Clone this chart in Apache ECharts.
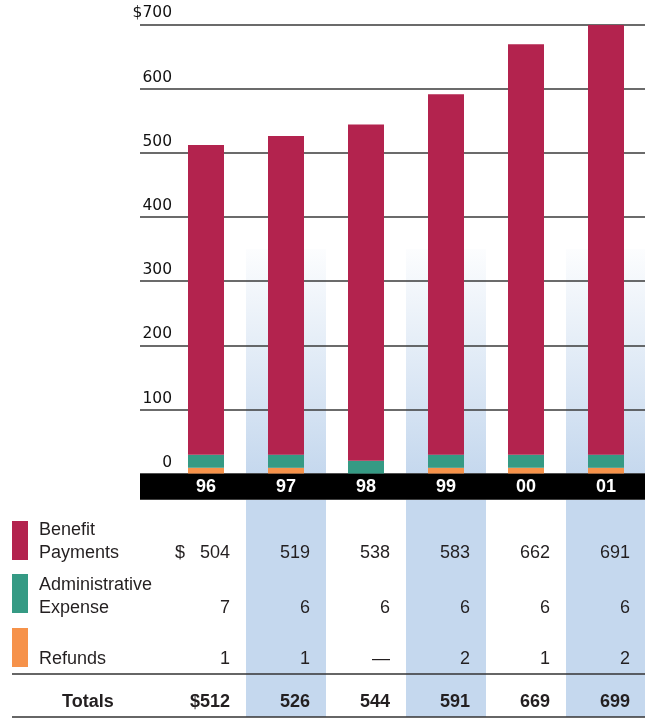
<!DOCTYPE html>
<html><head><meta charset="utf-8">
<script src="https://cdn.jsdelivr.net/npm/echarts@6/dist/echarts.min.js"></script>
<style>html,body{margin:0;padding:0;background:#fff}#c{width:645px;height:718px}</style>
</head><body><div id="c"></div>
<script>
// ---- data ----
const categories = ['96', '97', '98', '99', '00', '01'];
const benefitPayments = [504, 519, 538, 583, 662, 691];
const adminExpense = [7, 6, 6, 6, 6, 6];
const refunds = [1, 1, null, 2, 1, 2];
const totals = [512, 526, 544, 591, 669, 699];
const shadedCategories = ['97', '99', '01'];
const shadeTopValue = 350;
const yMin = 0, yMax = 700, yStep = 100;

// ---- styles ----
const C_BEN = '#b3234e', C_ADM = '#359a84', C_REF = '#f6924a', C_BLUE = '#c5d8ee', C_TXT = '#231f20';
const FONT = 'Liberation Sans, Arial, sans-serif';
const BAR_W = 36, MIN_REF_PX = 6, MIN_ADM_PX = 13;

const chart = echarts.init(document.getElementById('c'));
const gridGeom = { top: 24.3, bottom: 244.3, outerBoundsMode: 'none', containLabel: false };
const yAxisHidden = (gi) => ({ type: 'value', gridIndex: gi, min: yMin, max: yMax, interval: yStep, show: false });

function renderStack(params, api) {
  const i = api.value(0);
  const ref = api.value(1), adm = api.value(2), ben = api.value(3);
  const base = api.coord([i, 0]);
  const x = base[0] - BAR_W / 2, y0 = base[1];
  const hRef = (ref == null || isNaN(ref)) ? 0 : Math.max(api.size([0, ref])[1], MIN_REF_PX);
  const hAdm = Math.max(api.size([0, adm])[1], MIN_ADM_PX);
  const total = (isNaN(ref) ? 0 : ref) + adm + ben;
  const yTop = api.coord([i, total])[1];
  const children = [];
  if (hRef > 0) children.push({ type: 'rect', shape: { x: x, y: y0 - hRef, width: BAR_W, height: hRef }, style: { fill: C_REF } });
  children.push({ type: 'rect', shape: { x: x, y: y0 - hRef - hAdm, width: BAR_W, height: hAdm }, style: { fill: C_ADM } });
  children.push({ type: 'rect', shape: { x: x, y: yTop, width: BAR_W, height: (y0 - hRef - hAdm) - yTop }, style: { fill: C_BEN } });
  return { type: 'group', children: children };
}

chart.setOption({
  animation: false,
  backgroundColor: '#fff',
  grid: [
    Object.assign({ left: 140, right: 0 }, gridGeom),
    Object.assign({ left: 166, width: 480 }, gridGeom),
    Object.assign({ left: 166, width: 480 }, gridGeom)
  ],
  xAxis: [
    { type: 'value', gridIndex: 0, show: false, min: 0, max: 1 },
    { type: 'category', gridIndex: 1, data: categories, show: false },
    { type: 'category', gridIndex: 2, data: categories, z: 10,
      axisLine: { show: false }, axisTick: { show: false },
      axisLabel: { color: '#fff', fontFamily: FONT, fontWeight: 'bold', fontSize: 18, margin: 13, verticalAlign: 'middle' } }
  ],
  yAxis: [
    { type: 'value', gridIndex: 0, min: yMin, max: yMax, interval: yStep, z: 1,
      axisLine: { show: false }, axisTick: { show: false },
      splitLine: { show: true, lineStyle: { color: '#3a3a3a', width: 1.5 } },
      axisLabel: { margin: -32, align: 'right', verticalAlign: 'bottom', padding: [0, 0, 3, 0],
        fontFamily: 'DejaVu Sans', fontSize: 15.5, color: '#111',
        formatter: v => v === yMax ? '$' + v : String(v) } },
    yAxisHidden(1), yAxisHidden(2)
  ],
  series: [
    { type: 'bar', xAxisIndex: 1, yAxisIndex: 1, z: 0, barWidth: '100%', silent: true,
      data: categories.map(c => shadedCategories.includes(c) ? shadeTopValue : null),
      itemStyle: { color: new echarts.graphic.LinearGradient(0, 0, 0, 1, [
        { offset: 0, color: 'rgba(197,216,238,0.05)' }, { offset: 1, color: C_BLUE }]) } },
    { type: 'custom', xAxisIndex: 2, yAxisIndex: 2, z: 2, silent: true,
      renderItem: renderStack,
      encode: { x: 0, y: 3 },
      data: categories.map((c, i) => [i, refunds[i] == null ? NaN : refunds[i], adminExpense[i], benefitPayments[i]]) }
  ]
});

// ---- table & decorations, positioned from the chart's own scales ----
const xs = categories.map(c => chart.convertToPixel({ xAxisIndex: 2 }, c));
const y0 = chart.convertToPixel({ yAxisIndex: 2 }, 0);
const band = 80;
const bandTop = y0, bandBot = y0 + 26;
const rowBase = [559.3, 615, 666];
const totalBase = 708.3;
const lineA = 674, lineB = 717;
const els = [];
categories.forEach((c, i) => {
  if (shadedCategories.includes(c)) {
    els.push({ type: 'rect', z: 1, shape: { x: xs[i] - band / 2, y: bandBot, width: band, height: lineB - bandBot }, style: { fill: C_BLUE } });
  }
});
els.push({ type: 'rect', z: 3, shape: { x: 140, y: bandTop, width: 505, height: 26 }, style: { fill: '#000' } });
[lineA, lineB].forEach(y => els.push({ type: 'line', z: 4, shape: { x1: 12, y1: y, x2: 645, y2: y }, style: { stroke: '#333', lineWidth: 1.5 } }));
[[C_BEN, 521], [C_ADM, 574], [C_REF, 628]].forEach(([col, y]) =>
  els.push({ type: 'rect', z: 4, shape: { x: 12, y: y, width: 16, height: 39 }, style: { fill: col } }));
const txt = (text, x, base, align, bold) => els.push({ type: 'text', z: 5, x: x, y: base - 6.5,
  style: { text: text, fill: C_TXT, font: (bold ? 'bold ' : '') + '18px ' + FONT, align: align, verticalAlign: 'middle' } });
txt('Benefit', 39, 536.7, 'left');
txt('Payments', 39, rowBase[0], 'left');
txt('Administrative', 39, 591.7, 'left');
txt('Expense', 39, rowBase[1], 'left');
txt('Refunds', 39, rowBase[2], 'left');
txt('Totals', 62, totalBase, 'left', true);
txt('$', 175, rowBase[0], 'left');
const rows = [benefitPayments, adminExpense, refunds];
rows.forEach((arr, r) => arr.forEach((v, i) => txt(v == null ? '\u2014' : String(v), xs[i] + 24, rowBase[r], 'right')));
totals.forEach((v, i) => txt((i === 0 ? '$' : '') + v, xs[i] + 24, totalBase, 'right', true));
chart.setOption({ graphic: { elements: els } });
</script></body></html>
